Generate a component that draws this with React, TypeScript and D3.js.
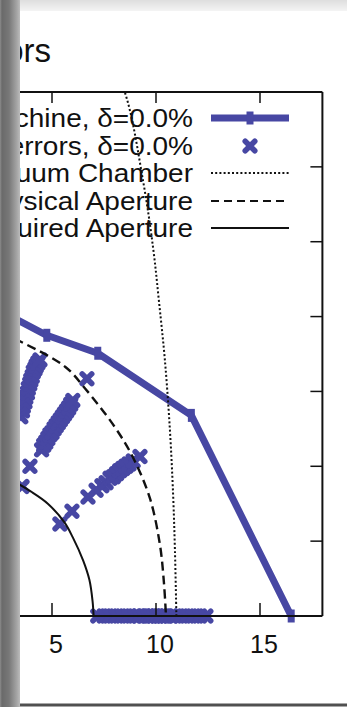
import React from "react";
import * as d3 from "d3";

// plot ranges and ticks
const xDomain = [0, 18];
const yDomain = [0, 7];
const xTicks = [5, 10, 15];
const yTicks = [1, 2, 3, 4, 5, 6];

// ideal machine, delta = 0
const machineX = [0.3, 2.0, 4.75, 7.2, 11.7, 16.5];
const machineY = [4.32, 4.15, 3.75, 3.51, 2.68, 0.0];

// machine with errors (scatter), read ray by ray
const errX = [
  // horizontal ray
  7.2, 7.5, 7.8, 8.1, 8.4, 8.7, 9.0, 9.2, 9.4, 9.6, 9.75, 9.9, 10.05, 10.2, 10.35, 10.5, 10.7, 10.9, 11.2, 11.5, 11.8, 12.1, 12.4,
  // lower ray
  5.38, 5.96, 6.73, 7.12, 7.4, 7.6, 7.79, 7.95, 8.1, 8.25, 8.4, 8.55, 8.7, 8.9, 9.23,
  // middle ray
  3.56, 3.94, 4.5, 4.6, 4.7, 4.8, 4.9, 5.0, 5.1, 5.2, 5.3, 5.4, 5.5, 5.6, 5.7, 5.8, 5.9, 6.0, 6.68,
  // upper ray
  3.5, 3.58, 3.62, 3.7, 3.74, 3.82, 3.86, 3.93, 3.98, 4.05, 4.1, 4.18, 4.24, 4.32, 4.42,
];
const errY = [
  0, 0, 0, 0, 0, 0, 0, 0, 0, 0, 0, 0, 0, 0, 0, 0, 0, 0, 0, 0, 0, 0, 0,
  1.23, 1.4, 1.59, 1.68, 1.74, 1.78, 1.84, 1.86, 1.9, 1.94, 1.97, 2.0, 2.03, 2.07, 2.13,
  1.73, 2.0, 2.22, 2.28, 2.32, 2.37, 2.42, 2.45, 2.5, 2.54, 2.58, 2.62, 2.66, 2.7, 2.74, 2.78, 2.83, 2.88, 3.17,
  2.66, 2.74, 2.8, 2.86, 2.92, 2.98, 3.04, 3.1, 3.15, 3.2, 3.26, 3.3, 3.34, 3.38, 3.42,
];

// aperture curves
const vacuumX = [7.5, 8.51, 9.38, 9.86, 10.14, 10.43, 10.67, 10.82, 10.91, 10.98];
const vacuumY = [7.6, 6.99, 5.81, 4.92, 4.21, 3.41, 2.48, 1.64, 0.88, 0.0];
const physX = [0, 2.0, 3.46, 5.63, 6.59, 8.03, 8.89, 9.71, 10.19, 10.38, 10.48];
const physY = [3.95, 3.85, 3.67, 3.33, 3.04, 2.52, 2.12, 1.57, 0.95, 0.45, 0.0];
const reqX = [0, 1.5, 3.0, 4.0, 4.8, 5.6, 6.0, 6.5, 6.8, 6.95, 7.0];
const reqY = [2.0, 1.96, 1.82, 1.66, 1.5, 1.25, 1.05, 0.74, 0.48, 0.2, 0.0];

const legendLabels = [
  "Ideal Machine, δ=0.0%",
  "Machine with errors, δ=0.0%",
  "Vacuum Chamber",
  "Physical Aperture",
  "Required Aperture",
];

const BLUE = "#4747a3";
const FONT = "'Liberation Sans', Arial, sans-serif";

export default function App() {
  const W = 347;
  const H = 707;
  const x = d3.scaleLinear().domain(xDomain).range([-52, 322.4]);
  const y = d3.scaleLinear().domain(yDomain).range([616, 92]);
  const top = y(yDomain[1]);
  const bottom = y(0);
  const right = x(xDomain[1]);

  const pts = (xs: number[], ys: number[]) => xs.map((v, i) => [v, ys[i]] as [number, number]);
  const straight = d3.line<[number, number]>().x(d => x(d[0])).y(d => y(d[1]));
  const smooth = d3
    .line<[number, number]>()
    .x(d => x(d[0]))
    .y(d => y(d[1]))
    .curve(d3.curveCatmullRom);

  const machine = pts(machineX, machineY);
  const errors = pts(errX, errY);

  const cross = (cx: number, cy: number, r: number) =>
    `M${cx - r},${cy - r}L${cx + r},${cy + r}M${cx - r},${cy + r}L${cx + r},${cy - r}`;
  const plus = (cx: number, cy: number, r: number) => `M${cx},${cy - r}L${cx},${cy + r}`;

  const legX1 = 211;
  const legX2 = 289;
  const legTextX = 193;
  const legBase = [127, 155, 182, 210, 237];

  return (
    <svg
      width={W}
      height={H}
      style={{ position: "absolute", left: 0, top: 0, background: "#fff" }}
      fontFamily={FONT}
    >
      <defs>
        <clipPath id="plotClip">
          <rect x={x(0)} y={top} width={right - x(0)} height={bottom - top} />
        </clipPath>
        <linearGradient id="barGrad" x1="0" x2="1" y1="0" y2="0">
          <stop offset="0" stopColor="#8c8c8c" />
          <stop offset="0.1" stopColor="#6a6a6a" />
          <stop offset="0.45" stopColor="#787878" />
          <stop offset="0.85" stopColor="#a6a6a6" />
          <stop offset="1" stopColor="#bcbcbc" />
        </linearGradient>
        <linearGradient id="topGrad" x1="0" x2="0" y1="0" y2="1">
          <stop offset="0" stopColor="#dedede" />
          <stop offset="1" stopColor="#f4f4f4" />
        </linearGradient>
      </defs>

      <rect x={0} y={0} width={W} height={11} fill="url(#topGrad)" />

      {/* title */}
      <text x={51} y={62} fontSize={33} textAnchor="end" fill="#111">
        Dynamic Aperture with errors
      </text>

      {/* machine line */}
      <g clipPath="url(#plotClip)">
        <path d={straight(machine) ?? ""} fill="none" stroke={BLUE} strokeWidth={7} strokeLinejoin="round" />
      </g>
      {machine.map((d, i) => (
        <path key={"m" + i} d={plus(x(d[0]), y(d[1]), 6.5)} stroke={BLUE} strokeWidth={7} />
      ))}

      {/* machine with errors */}
      {errors.map((d, i) => (
        <path key={"e" + i} d={cross(x(d[0]), y(d[1]), 4.8)} stroke={BLUE} strokeWidth={5.5} strokeLinecap="round" />
      ))}

      {/* apertures */}
      <g clipPath="url(#plotClip)" fill="none">
        <path d={smooth(pts(vacuumX, vacuumY)) ?? ""} stroke="#111" strokeWidth={2} strokeDasharray="2,2.2" />
        <path d={smooth(pts(physX, physY)) ?? ""} stroke="#111" strokeWidth={2.4} strokeDasharray="9,5" />
        <path d={smooth(pts(reqX, reqY)) ?? ""} stroke="#111" strokeWidth={2} />
      </g>

      {/* frame */}
      <g stroke="#111" strokeWidth={2} fill="none">
        <line x1={0} x2={right} y1={top} y2={top} />
        <line x1={0} x2={right} y1={bottom} y2={bottom} />
        <line x1={right} x2={right} y1={top} y2={bottom} />
        {xTicks.map(t => (
          <g key={"xt" + t}>
            <line x1={x(t)} x2={x(t)} y1={bottom} y2={bottom - 13} strokeWidth={1.5} />
            <line x1={x(t)} x2={x(t)} y1={top} y2={top + 11} strokeWidth={1.5} />
          </g>
        ))}
        {yTicks.map(t => (
          <line key={"yt" + t} x1={right} x2={right - 12} y1={y(t)} y2={y(t)} strokeWidth={1.5} />
        ))}
      </g>
      {xTicks.map(t => (
        <text key={"xl" + t} x={x(t) + 4} y={653} fontSize={25} textAnchor="middle" fill="#111">
          {t}
        </text>
      ))}

      {/* legend */}
      <g fontSize={25} fill="#111" textAnchor="end">
        {legendLabels.map((l, i) => (
          <text key={"lt" + i} transform={`translate(${legTextX},${legBase[i]}) scale(1.12,1)`}>
            {l}
          </text>
        ))}
      </g>
      <g fill="none">
        <line x1={legX1} x2={legX2} y1={legBase[0] - 9} y2={legBase[0] - 9} stroke={BLUE} strokeWidth={7} />
        <path d={plus((legX1 + legX2) / 2, legBase[0] - 9, 6.5)} stroke={BLUE} strokeWidth={7} />
        <path d={cross((legX1 + legX2) / 2, legBase[1] - 9, 4.8)} stroke={BLUE} strokeWidth={5.5} strokeLinecap="round" />
        <line x1={legX1} x2={legX2} y1={legBase[2] - 9} y2={legBase[2] - 9} stroke="#111" strokeWidth={2} strokeDasharray="2,2.2" />
        <line x1={legX1} x2={legX2} y1={legBase[3] - 9} y2={legBase[3] - 9} stroke="#111" strokeWidth={2} strokeDasharray="8,5" />
        <line x1={legX1} x2={legX2} y1={legBase[4] - 9} y2={legBase[4] - 9} stroke="#111" strokeWidth={2} />
      </g>

      {/* viewer chrome */}
      <rect x={0} y={0} width={20} height={H} fill="url(#barGrad)" />
      <rect x={20} y={703.5} width={W - 20} height={3} fill="#505050" />
    </svg>
  );
}
